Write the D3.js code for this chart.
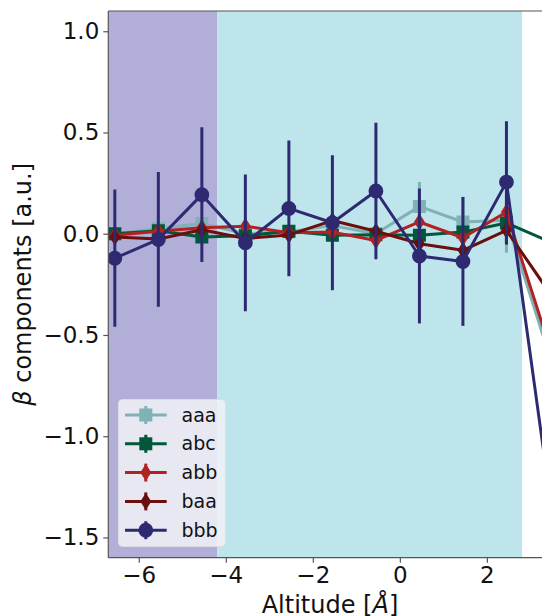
<!DOCTYPE html>
<html>
<head>
<meta charset="utf-8">
<script src="https://cdn.jsdelivr.net/npm/d3@7"></script>
<style>
  body { margin: 0; background: #fff; }
  svg { display: block; font-family: "DejaVu Sans", sans-serif; }
</style>
</head>
<body>
<div id="chart"></div>
<script>
// altitude positions (last one sits at the cropped right edge)
var altitude = [-6.55, -5.55, -4.55, -3.55, -2.55, -1.55, -0.55, 0.45, 1.45, 2.45, 3.45];

var seriesNames = ["aaa", "abc", "abb", "baa", "bbb"];
var seriesColors = ["#7fb2b5", "#00573a", "#b22222", "#6b0e0e", "#2e2a72"];
var seriesMarkers = ["square", "square", "diamond", "diamond", "circle"];

var aaaVals = [0.0, 0.025, 0.05, 0.0, 0.01, 0.04, 0.0, 0.135, 0.058, 0.066, -0.61];
var aaaErr = [0.03, 0.03, 0.03, 0.03, 0.03, 0.03, 0.03, 0.12, 0.125, 0.16, 0.1];
var abcVals = [0.0, 0.015, -0.016, -0.01, 0.012, -0.008, -0.005, -0.008, 0.008, 0.053, -0.04];
var abcErr = [0.02, 0.02, 0.02, 0.02, 0.02, 0.02, 0.02, 0.02, 0.02, 0.03, 0.03];
var abbVals = [-0.008, 0.012, 0.03, 0.037, 0.005, 0.008, -0.033, 0.058, -0.02, 0.107, -0.565];
var abbErr = [0.03, 0.03, 0.03, 0.03, 0.03, 0.03, 0.03, 0.04, 0.04, 0.05, 0.06];
var baaVals = [-0.016, -0.026, 0.02, -0.024, -0.006, 0.065, 0.012, -0.049, -0.082, 0.017, -0.294];
var baaErr = [0.03, 0.03, 0.03, 0.03, 0.03, 0.03, 0.03, 0.03, 0.03, 0.07, 0.05];
var bbbVals = [-0.121, -0.028, 0.193, -0.045, 0.125, 0.054, 0.211, -0.11, -0.137, 0.255, -1.3];
var bbbErr = [0.339, 0.333, 0.333, 0.338, 0.335, 0.333, 0.337, 0.333, 0.318, 0.30, 0.3];

var allVals = [aaaVals, abcVals, abbVals, baaVals, bbbVals];
var allErr = [aaaErr, abcErr, abbErr, baaErr, bbbErr];

// shaded altitude bands: [from, to, colour]
var bands = [[-6.70, -4.20, "#b1afd8"], [-4.20, 2.81, "#bee4ec"]];

var xTicks = [-6, -4, -2, 0, 2];
var yTicks = [-1.5, -1.0, -0.5, 0.0, 0.5, 1.0];

var W = 542, H = 616;
var mLeft = 108.3, mRight = 551.7, mTop = 11, mBottom = 557.7;

var svg = d3.select("#chart").append("svg")
  .attr("width", W)
  .attr("height", H);

var x = d3.scaleLinear().domain([-6.70, 3.49]).range([mLeft, mRight]);
var y = d3.scaleLinear().domain([-1.6, 1.1]).range([mBottom, mTop]);

svg.append("clipPath").attr("id", "plotclip")
  .append("rect")
  .attr("x", mLeft).attr("y", mTop)
  .attr("width", mRight - mLeft).attr("height", mBottom - mTop);

var plot = svg.append("g").attr("clip-path", "url(#plotclip)");

plot.selectAll("rect.band")
  .data(bands)
  .join("rect")
  .attr("class", "band")
  .attr("x", d => x(d[0]))
  .attr("width", d => x(d[1]) - x(d[0]))
  .attr("y", mTop)
  .attr("height", mBottom - mTop)
  .attr("fill", d => d[2]);

function markerPath(kind) {
  if (kind === "square") return "M-6.5,-6.5H6.5V6.5H-6.5Z";
  if (kind === "diamond") return "M0,-8.5L5.5,0L0,8.5L-5.5,0Z";
  return d3.symbol().type(d3.symbolCircle).size(Math.PI * 7.4 * 7.4)();
}

seriesNames.forEach(function (name, i) {
  var pts = altitude.map((a, k) => ({ x: a, y: allVals[i][k], e: allErr[i][k] }));
  var g = plot.append("g");
  var col = seriesColors[i];

  g.selectAll("line")
    .data(pts)
    .join("line")
    .attr("x1", d => x(d.x)).attr("x2", d => x(d.x))
    .attr("y1", d => y(d.y - d.e)).attr("y2", d => y(d.y + d.e))
    .attr("stroke", col)
    .attr("stroke-width", 3);

  g.append("path")
    .datum(pts)
    .attr("d", d3.line().x(d => x(d.x)).y(d => y(d.y)))
    .attr("fill", "none")
    .attr("stroke", col)
    .attr("stroke-width", 3)
    .attr("stroke-linejoin", "round");

  g.selectAll("path.mk")
    .data(pts)
    .join("path")
    .attr("class", "mk")
    .attr("transform", d => `translate(${x(d.x)},${y(d.y)})`)
    .attr("d", markerPath(seriesMarkers[i]))
    .attr("fill", col);
});

// spines
var spine = "#555";
svg.append("line").attr("x1", mLeft).attr("x2", mLeft).attr("y1", mTop).attr("y2", mBottom)
  .attr("stroke", spine).attr("stroke-width", 1.2);
svg.append("line").attr("x1", mLeft).attr("x2", mRight).attr("y1", mBottom).attr("y2", mBottom)
  .attr("stroke", spine).attr("stroke-width", 1.2);
svg.append("line").attr("x1", mLeft).attr("x2", mRight).attr("y1", mTop).attr("y2", mTop)
  .attr("stroke", spine).attr("stroke-width", 1.2);

var fmtY = d => d3.format(".1f")(d).replace("-", "\u2212");
var fmtX = d => String(d).replace("-", "\u2212");

var yAxis = svg.append("g")
  .attr("transform", `translate(${mLeft},0)`)
  .call(d3.axisLeft(y).tickValues(yTicks).tickFormat(fmtY).tickSize(5).tickPadding(4));
var xAxis = svg.append("g")
  .attr("transform", `translate(0,${mBottom})`)
  .call(d3.axisBottom(x).tickValues(xTicks).tickFormat(fmtX).tickSize(5).tickPadding(4));

[xAxis, yAxis].forEach(function (ax) {
  ax.select(".domain").remove();
  ax.selectAll(".tick line").attr("stroke", spine).attr("stroke-width", 1.2);
  ax.selectAll(".tick text")
    .attr("fill", "#111")
    .style("font-size", "23px")
    .style("font-family", "DejaVu Sans, sans-serif");
});

// axis labels
svg.append("text")
  .attr("x", (mLeft + mRight) / 2)
  .attr("y", 612.5)
  .attr("text-anchor", "middle")
  .style("font-size", "24px")
  .attr("fill", "#111")
  .html('Altitude [<tspan font-style="italic">Å</tspan>]');

svg.append("text")
  .attr("transform", `translate(31,${(mTop + mBottom) / 2}) rotate(-90)`)
  .attr("text-anchor", "middle")
  .style("font-size", "24px")
  .attr("fill", "#111")
  .html('<tspan font-style="italic">β</tspan> components [a.u.]');

// legend
var lg = svg.append("g");
lg.append("rect")
  .attr("x", 118.5).attr("y", 399.5)
  .attr("width", 107).attr("height", 147)
  .attr("rx", 4)
  .attr("fill", "#f2f2f8").attr("fill-opacity", 0.85)
  .attr("stroke", "#dcdce6");

seriesNames.forEach(function (name, i) {
  var cy = 415 + i * 28.8;
  var col = seriesColors[i];
  lg.append("line").attr("x1", 125).attr("x2", 166.7).attr("y1", cy).attr("y2", cy)
    .attr("stroke", col).attr("stroke-width", 3);
  lg.append("line").attr("x1", 145.8).attr("x2", 145.8).attr("y1", cy - 9).attr("y2", cy + 9)
    .attr("stroke", col).attr("stroke-width", 3);
  lg.append("path")
    .attr("transform", `translate(145.8,${cy})`)
    .attr("d", markerPath(seriesMarkers[i]))
    .attr("fill", col);
  lg.append("text")
    .attr("x", 181.5).attr("y", cy + 6.5)
    .style("font-size", "19px")
    .attr("fill", "#111")
    .text(name);
});
</script>
</body>
</html>
